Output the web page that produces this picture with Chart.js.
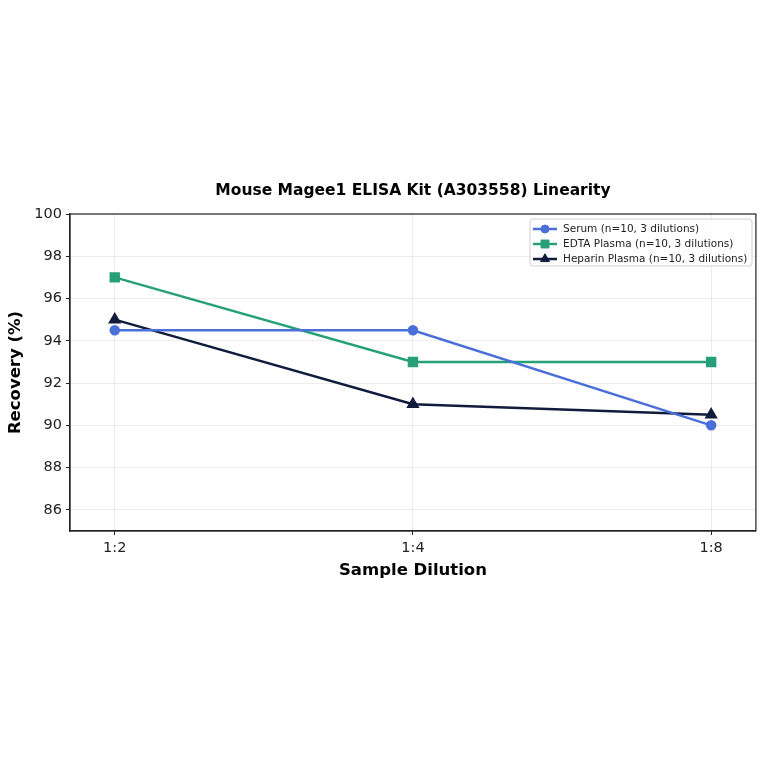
<!DOCTYPE html>
<html>
<head>
<meta charset="utf-8">
<script src="https://cdn.jsdelivr.net/npm/chart.js@4.4.1/dist/chart.umd.min.js"></script>
<style>
  html, body { margin: 0; padding: 0; background: #fff; }
  #wrap { width: 764px; height: 764px; }
</style>
</head>
<body>
<div id="wrap"><canvas id="chart" width="764" height="764"></canvas></div>
<script>
const categories = ["1:2", "1:4", "1:8"];
const serum = [94.5, 94.5, 90.0];
const edtaPlasma = [97.0, 93.0, 93.0];
const heparinPlasma = [95.0, 91.0, 90.5];
const yTicks = [86, 88, 90, 92, 94, 96, 98, 100];

const seriesNames = [
    "Serum (n=10, 3 dilutions)",
    "EDTA Plasma (n=10, 3 dilutions)",
    "Heparin Plasma (n=10, 3 dilutions)"
];
const seriesColors = ["#4a6fd9", "#27a07a", "#111c3d"];
const seriesMarkers = ["circle", "rect", "triangle"];
const markerSizes = [4, 5.6, 5.2];

const FONT = "'DejaVu Sans', sans-serif";

function toPoints(values) {
    return values.map((v, i) => ({x: i, y: v}));
}

// titles, frame and in-plot legend
const decorPlugin = {
    id: "decor",
    afterDraw(chart) {
        const ctx = chart.ctx;
        const a = chart.chartArea;
        ctx.save();

        ctx.strokeStyle = "#222";
        ctx.lineWidth = 1.2;
        ctx.strokeRect(a.left, a.top, a.right - a.left, a.bottom - a.top);

        const cx = (a.left + a.right) / 2;
        ctx.fillStyle = "#000";
        ctx.textAlign = "center";
        ctx.textBaseline = "middle";
        ctx.font = "bold 15.5px " + FONT;
        ctx.fillText("Mouse Magee1 ELISA Kit (A303558) Linearity", cx, 191);

        ctx.font = "bold 16.5px " + FONT;
        ctx.fillText("Sample Dilution", cx, 571);

        ctx.save();
        ctx.translate(16, (a.top + a.bottom) / 2);
        ctx.rotate(-Math.PI / 2);
        ctx.fillText("Recovery (%)", 0, 0);
        ctx.restore();

        // legend box
        const lx = 530, ly = 219, lw = 222, lh = 47;
        ctx.fillStyle = "rgba(255,255,255,0.85)";
        ctx.strokeStyle = "#d0d0d0";
        ctx.lineWidth = 1;
        ctx.beginPath();
        ctx.roundRect(lx, ly, lw, lh, 3);
        ctx.fill();
        ctx.stroke();

        ctx.font = "10.5px " + FONT;
        ctx.textAlign = "left";
        chart.data.datasets.forEach((ds, i) => {
            const y = ly + 10 + i * 15;
            ctx.strokeStyle = ds.borderColor;
            ctx.lineWidth = 2.5;
            ctx.beginPath();
            ctx.moveTo(lx + 3, y);
            ctx.lineTo(lx + 27, y);
            ctx.stroke();
            ctx.fillStyle = ds.borderColor;
            ctx.lineWidth = 1;
            Chart.helpers.drawPoint(ctx, {
                pointStyle: ds.pointStyle,
                radius: ds.pointRadius,
                borderWidth: 1
            }, lx + 15, y);
            ctx.fillStyle = "#222";
            ctx.fillText(ds.label, lx + 33, y);
        });
        ctx.restore();
    }
};

const datasets = [serum, edtaPlasma, heparinPlasma].map((vals, i) => ({
    label: seriesNames[i],
    data: toPoints(vals),
    borderColor: seriesColors[i],
    backgroundColor: seriesColors[i],
    pointBackgroundColor: seriesColors[i],
    pointBorderColor: seriesColors[i],
    pointStyle: seriesMarkers[i],
    pointRadius: markerSizes[i],
    borderWidth: 2.5,
    tension: 0
}));

new Chart(document.getElementById("chart"), {
    type: "line",
    data: {datasets: datasets},
    options: {
        responsive: false,
        animation: false,
        devicePixelRatio: 1,
        layout: {padding: {top: 214, left: 0, right: 8, bottom: 0}},
        plugins: {
            legend: {display: false},
            title: {display: false},
            tooltip: {enabled: false}
        },
        scales: {
            x: {
                type: "linear",
                min: -0.15,
                max: 2.15,
                afterBuildTicks: (scale) => {
                    scale.ticks = categories.map((c, i) => ({value: i}));
                },
                afterFit: (scale) => { scale.height = 233; },
                ticks: {
                    callback: (v) => categories[v],
                    color: "#222",
                    font: {family: FONT, size: 14.5},
                    padding: 5,
                    maxRotation: 0
                },
                grid: {color: "rgba(0,0,0,0.07)", tickColor: "#222", tickLength: 4},
                border: {color: "#222", width: 1.2}
            },
            y: {
                min: 85,
                max: 100,
                afterBuildTicks: (scale) => {
                    scale.ticks = yTicks.map(v => ({value: v}));
                },
                afterFit: (scale) => { scale.width = 70; },
                ticks: {
                    color: "#222",
                    font: {family: FONT, size: 14.5},
                    padding: 4
                },
                grid: {color: "rgba(0,0,0,0.07)", tickColor: "#222", tickLength: 4},
                border: {color: "#222", width: 1.2}
            }
        }
    },
    plugins: [decorPlugin]
});
</script>
</body>
</html>
